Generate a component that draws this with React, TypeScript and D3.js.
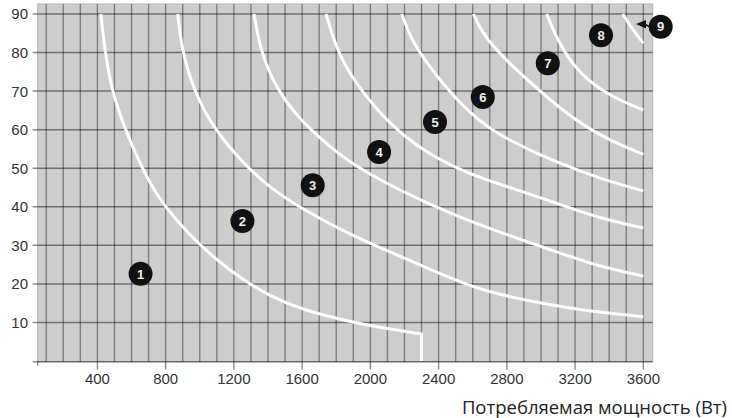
import React from 'react';
import * as d3 from 'd3';

// ---- data ----
const xTickValues = [400, 800, 1200, 1600, 2000, 2400, 2800, 3200, 3600];
const yTickValues = [10, 20, 30, 40, 50, 60, 70, 80, 90];
const xGridValues = d3.range(100, 3601, 100);
const xAxisTitle = 'Потребляемая мощность (Вт)';

const curve1: [number, number][] = [[420, 90], [445, 80], [485, 70], [563, 60], [650, 51.2], [720, 45.2], [787, 40.6], [924, 33.3], [1100, 26.1], [1256, 21], [1412, 16.8], [1607, 13.2], [1881, 10.2], [2050, 8.7], [2300, 7], [2300, 0]];
const curve2: [number, number][] = [[871, 90], [895, 80.6], [963, 70.3], [1080, 60.3], [1256, 51.2], [1400, 45.4], [1569, 40.2], [1881, 32.8], [2016, 30.2], [2215, 26.4], [2409, 22.6], [2602, 19.2], [2760, 17.2], [2954, 15.4], [3153, 13.8], [3346, 12.6], [3600, 11.5]];
const curve3: [number, number][] = [[1318, 90], [1354, 80.6], [1451, 70.3], [1588, 62.5], [1764, 55.5], [1881, 51.6], [2018, 47.9], [2174, 44.3], [2369, 40.2], [2565, 36.6], [2760, 33.4], [2955, 30.4], [3151, 27.4], [3346, 24.5], [3600, 22]];
const curve4: [number, number][] = [[1740, 90], [1803, 80.6], [1900, 72.9], [2037, 65.1], [2193, 58.3], [2369, 53], [2565, 48.8], [2760, 45.8], [2955, 43], [3151, 40], [3346, 37], [3600, 34.5]];
const curve5: [number, number][] = [[2184, 90], [2233, 84.1], [2311, 78.4], [2467, 69.5], [2643, 62], [2760, 58.6], [2955, 54.2], [3151, 50.6], [3346, 47.3], [3600, 44.1]];
const curve6: [number, number][] = [[2604, 90], [2649, 85.6], [2760, 79.4], [2954, 71.6], [3151, 64], [3364, 57.9], [3600, 53.6]];
const curve7: [number, number][] = [[3034, 90], [3073, 85.6], [3151, 78.9], [3268, 72.9], [3424, 68.3], [3600, 65.1]];
const curve8: [number, number][] = [[3479, 90], [3534, 86.2], [3600, 82.4]];

const labelText = ['1', '2', '3', '4', '5', '6', '7', '8', '9'];
const labelPower = [653, 1250, 1662, 2051, 2379, 2659, 3040, 3352, 3702];
const labelValue = [22.6, 36.3, 45.6, 54.2, 62, 68.5, 77.2, 84.5, 86.7];
const arrowTip: [number, number] = [3557, 87.4];

export default function App() {
  const W = 732, H = 418;
  const x = d3.scaleLinear().domain([50, 3655]).range([37.7, 652.7]);
  const y = d3.scaleLinear().domain([0, 90]).range([361, 14]);
  const left = x(50), right = x(3655), top = y(92.6), bottom = y(0) + 0.7;

  const smooth = d3.line<[number, number]>()
    .x(d => x(d[0]))
    .y(d => y(d[1]))
    .curve(d3.curveBasis);

  const pathFor = (pts: [number, number][], corner = false) => {
    if (!corner) return smooth(pts) || '';
    const last = pts[pts.length - 1];
    return (smooth(pts.slice(0, -1)) || '') + `L${x(last[0])},${y(last[1])}`;
  };

  const curves = [curve1, curve2, curve3, curve4, curve5, curve6, curve7, curve8];
  const tickFont = '"Liberation Sans", Arial, sans-serif';

  const tipX = x(arrowTip[0]), tipY = y(arrowTip[1]);
  const c9x = x(labelPower[8]), c9y = y(labelValue[8]);

  return (
    <svg width={W} height={H} style={{ position: 'absolute', left: 0, top: 0, background: '#fff' }}>
      <rect x={left} y={top} width={right - left} height={bottom - top} fill="#cdcdcd" stroke="#b4b4b4" strokeWidth={1} />
      {xGridValues.map(v => (
        <line key={'vx' + v} x1={x(v)} x2={x(v)} y1={top} y2={bottom} stroke="#000" strokeOpacity={0.38} strokeWidth={1.4} />
      ))}
      {yTickValues.map(v => (
        <line key={'hy' + v} x1={left - 5} x2={right} y1={y(v)} y2={y(v)} stroke="#000" strokeOpacity={0.45} strokeWidth={1.5} />
      ))}
      <line x1={left - 5} x2={right} y1={bottom} y2={bottom} stroke="#000" strokeOpacity={0.45} strokeWidth={1.5} />
      <line x1={left} x2={left} y1={bottom} y2={bottom + 4} stroke="#000" strokeOpacity={0.45} strokeWidth={1.4} />
      {xTickValues.map(v => (
        <line key={'tx' + v} x1={x(v)} x2={x(v)} y1={bottom} y2={bottom + 8} stroke="#000" strokeOpacity={0.45} strokeWidth={1.4} />
      ))}
      {curves.map((c, i) => (
        <path key={'c' + i} d={pathFor(c, i === 0)} fill="none" stroke="#fff" strokeWidth={3} strokeLinejoin="miter" />
      ))}
      <line x1={tipX + 8} x2={c9x - 11} y1={tipY} y2={c9y} stroke="#111" strokeWidth={1.5} />
      <path d={`M${tipX},${tipY}L${tipX + 10},${tipY - 4}L${tipX + 10},${tipY + 4.5}Z`} fill="#111" />
      {labelText.map((t, i) => (
        <g key={'l' + t} transform={`translate(${x(labelPower[i])},${y(labelValue[i])})`}>
          <circle r={12} fill="#111" />
          <text textAnchor="middle" dy="0.36em" fill="#eee" fontFamily={tickFont} fontWeight="bold" fontSize={13}>{t}</text>
        </g>
      ))}
      {yTickValues.map(v => (
        <text key={'yl' + v} x={28} y={y(v)} dy="0.36em" textAnchor="end" fontFamily={tickFont} fontSize={15} fill="#333">{v}</text>
      ))}
      {xTickValues.map(v => (
        <text key={'xl' + v} x={x(v)} y={383.5} textAnchor="middle" fontFamily={tickFont} fontSize={15} fill="#333">{v}</text>
      ))}
      <text x={727} y={413.5} textAnchor="end" fontFamily='"Open Sans", sans-serif' fontSize={18.5} fill="#222">{xAxisTitle}</text>
    </svg>
  );
}
